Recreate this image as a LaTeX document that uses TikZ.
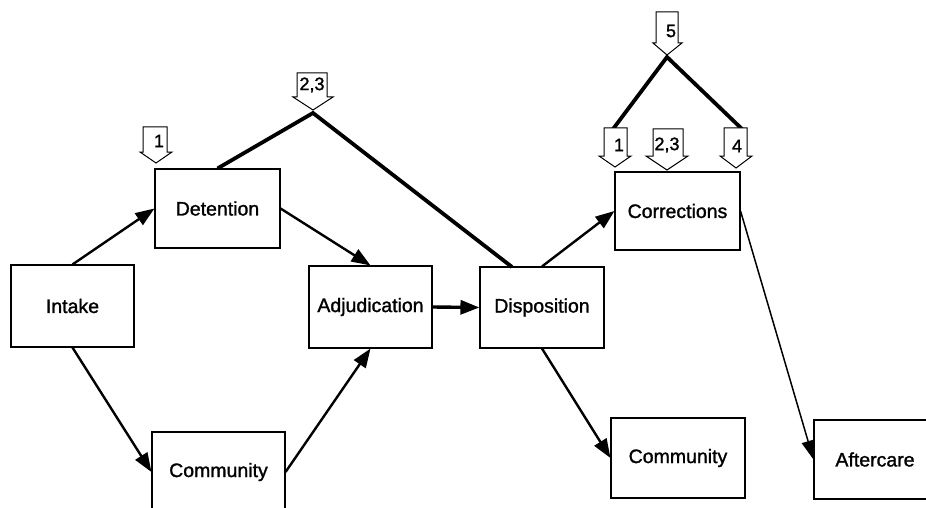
\documentclass[tikz,border=0pt]{standalone}
\usepackage{fontspec}
\setmainfont{Liberation Sans}[BoldFont=Liberation Sans, BoldFeatures={FakeBold=1.3}]
\usetikzlibrary{arrows.meta}
\begin{document}
\begin{tikzpicture}[x=1pt,y=-1pt,
  box/.style={draw, line width=1.1pt, rectangle, inner sep=0pt, fill=white,
    font=\fontsize{19.5}{22}\selectfont\bfseries},
  flow/.style={line width=2.4pt, -{Triangle[length=19pt,width=14pt]}},
  thinflow/.style={line width=1.5pt, -{Triangle[length=19pt,width=13pt]}},
  link/.style={line width=3.8pt},
  markshape/.style={draw, line width=1pt, fill=white, line join=miter},
  marklabel/.style={inner sep=0pt, font=\fontsize{18}{20}\selectfont\bfseries}
]
\useasboundingbox (0,0) rectangle (926,508);
\clip (0,0) rectangle (926,508);

% boxes
\node[box, minimum width=123pt, minimum height=82pt] (intake) at (72.5,306) {Intake};
\node[box, minimum width=125pt, minimum height=79pt] (detention) at (217.5,208.5) {Detention};
\node[box, minimum width=133pt, minimum height=80pt] (community) at (218.5,472) {Community};
\node[box, minimum width=123pt, minimum height=82pt] (adjudication) at (370.5,307) {Adjudication};
\node[box, minimum width=124pt, minimum height=81pt] (disposition) at (542,307.5) {Disposition};
\node[box, minimum width=125pt, minimum height=78pt] (corrections) at (677.5,211) {Corrections};
\node[box, minimum width=134pt, minimum height=80pt] (community2) at (678,458) {Community};
\node[box, minimum width=122pt, minimum height=79pt] (aftercare) at (875,459.5) {Aftercare};

% flows
\draw[flow] (intake.north) -- (detention.west);
\draw[flow] (intake.south) -- (community.west);
\draw[flow] (detention.east) -- (adjudication.north);
\draw[flow] (community.east) -- (adjudication.south);
\draw[flow, line width=3.4pt] (adjudication.east) -- (disposition.west);
\draw[flow] (disposition.north) -- (corrections.west);
\draw[flow] (disposition.south) -- (community2.west);
\draw[thinflow] (corrections.east) -- (aftercare.west);

% thick links
\coordinate (apexA) at (313,113);
\coordinate (dispTop) at (512,267);
\draw[link] (detention.north) -- (apexA) -- (dispTop);
\coordinate (apexB) at (667,57);
\coordinate (mc1top) at (613,129);
\coordinate (mc4top) at (742,129);
\draw[link] (mc1top) -- (apexB) -- (mc4top);

% markers
\draw[markshape] (143,127) -- (167,127) -- (167,152) -- (172,152) -- (156,163) -- (140,152) -- (143,152) -- cycle;
\node[marklabel] (m1) at (159,141) {1};
\draw[markshape] (297,73) -- (327,73) -- (327,97) -- (333,97) -- (313,110) -- (293,97) -- (297,97) -- cycle;
\node[marklabel] (m23) at (312,85) {2,3};
\draw[markshape] (656,12) -- (678,12) -- (678,43) -- (682,43) -- (667,55) -- (653,43) -- (656,43) -- cycle;
\node[marklabel] (m5) at (671,31) {5};
\draw[markshape] (604,128) -- (627,128) -- (627,156) -- (631,156) -- (615,167) -- (599,156) -- (604,156) -- cycle;
\node[marklabel] (mc1) at (619,145) {1};
\draw[markshape] (653,129) -- (683,129) -- (683,156) -- (688,156) -- (667,170) -- (646,156) -- (653,156) -- cycle;
\node[marklabel] (mc23) at (667,145) {2,3};
\draw[markshape] (724,128) -- (747,128) -- (747,156) -- (752,156) -- (736,168) -- (720,156) -- (724,156) -- cycle;
\node[marklabel] (mc4) at (737,146) {4};
\end{tikzpicture}
\end{document}
